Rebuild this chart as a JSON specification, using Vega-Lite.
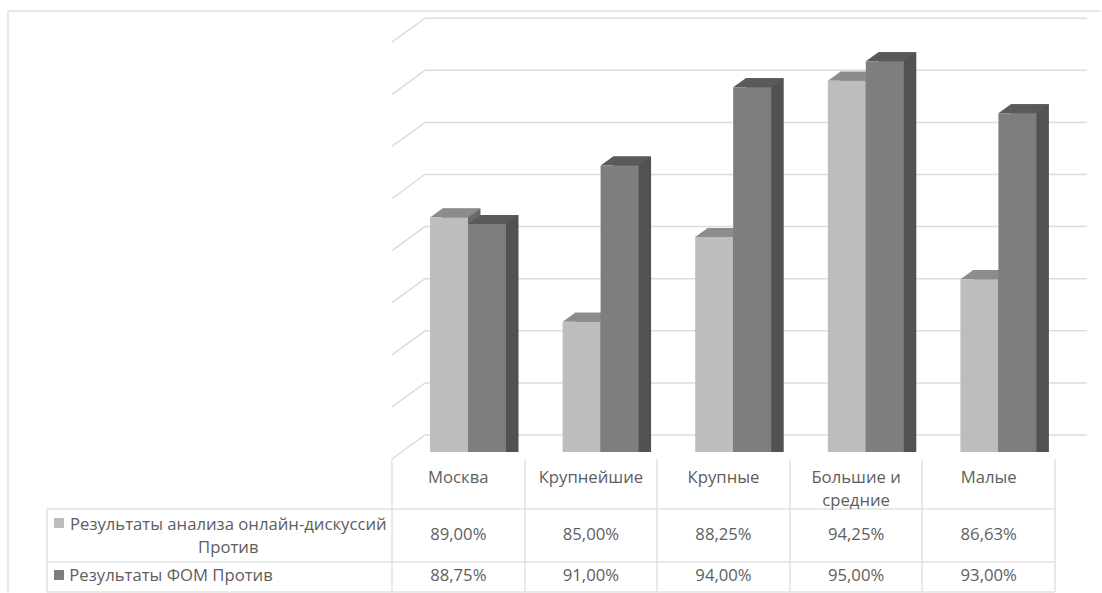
{
"$schema":"https://vega.github.io/schema/vega-lite/v6.json",
"width":1102,"height":593,"padding":0,
"autosize":{"type":"fit","contains":"padding"},
"background":"#ffffff",
"config":{"view":{"stroke":null},"text":{"font":"Open Sans","fontSize":16.7,"color":"#5e5e5e"}},
"datasets":{
"bars":[
{"cat":"Москва","series":"Результаты анализа онлайн-дискуссий Против","value":89.0,"label":"89,00%"},
{"cat":"Крупнейшие","series":"Результаты анализа онлайн-дискуссий Против","value":85.0,"label":"85,00%"},
{"cat":"Крупные","series":"Результаты анализа онлайн-дискуссий Против","value":88.25,"label":"88,25%"},
{"cat":"Большие и средние","series":"Результаты анализа онлайн-дискуссий Против","value":94.25,"label":"94,25%"},
{"cat":"Малые","series":"Результаты анализа онлайн-дискуссий Против","value":86.63,"label":"86,63%"},
{"cat":"Москва","series":"Результаты ФОМ Против","value":88.75,"label":"88,75%"},
{"cat":"Крупнейшие","series":"Результаты ФОМ Против","value":91.0,"label":"91,00%"},
{"cat":"Крупные","series":"Результаты ФОМ Против","value":94.0,"label":"94,00%"},
{"cat":"Большие и средние","series":"Результаты ФОМ Против","value":95.0,"label":"95,00%"},
{"cat":"Малые","series":"Результаты ФОМ Против","value":93.0,"label":"93,00%"}
],
"grid":[{"tick":80},{"tick":82},{"tick":84},{"tick":86},{"tick":88},{"tick":90},{"tick":92},{"tick":94},{"tick":96}],
"head":[
{"cat":"Москва","series":"Категория","label":"Москва"},
{"cat":"Крупнейшие","series":"Категория","label":"Крупнейшие"},
{"cat":"Крупные","series":"Категория","label":"Крупные"},
{"cat":"Большие и средние","series":"Категория","label":"Большие и\nсредние"},
{"cat":"Малые","series":"Категория","label":"Малые"}
],
"rows":[
{"cat":"Москва","series":"Результаты анализа онлайн-дискуссий Против","label":"Результаты анализа онлайн-дискуссий\nПротив"},
{"cat":"Москва","series":"Результаты ФОМ Против","label":"Результаты ФОМ Против"}
]
},
"resolve":{"scale":{"y":"independent"}},
"layer":[
{
"encoding":{
"x":{"field":"cat","type":"nominal","axis":null,"scale":{"domain":["Москва","Крупнейшие","Крупные","Большие и средние","Малые"],"range":[392,1055],"paddingInner":0,"paddingOuter":0}},
"y":{"field":"value","type":"quantitative","axis":null,"scale":{"domain":[80,96],"range":[452,35.2],"nice":false,"zero":false}}
},
"layer":[
{"data":{"values":[{"cat":"Москва","value":80}]},
"mark":{"type":"point","filled":false,"size":4,"stroke":"#e2e2e2","strokeWidth":1.5,"opacity":1,
"shape":"M-450.3,140.5L-450.3,-441L643,-441"}},
{"data":{"name":"grid"},
"mark":{"type":"point","filled":false,"size":4,"stroke":"#dcdcdc","strokeWidth":1.5,"opacity":1,
"shape":"M-66.3,7L-33.3,-17L628.7,-17"},
"encoding":{"x":{"datum":"Москва"},"y":{"field":"tick","type":"quantitative"}}},
{"data":{"name":"bars"},
"layer":[
{"transform":[{"filter":"datum.series=='Результаты анализа онлайн-дискуссий Против'"}],"mark":{"type":"bar","color":"#6a6a6a","width":38,"xOffset":3.2,"yOffset":-9},"encoding":{"y2":{"datum":80}}},
{"transform":[{"filter":"datum.series=='Результаты ФОМ Против'"}],"mark":{"type":"bar","color":"#525252","width":38,"xOffset":41.2,"yOffset":-9},"encoding":{"y2":{"datum":80}}},
{"transform":[{"filter":"datum.series=='Результаты анализа онлайн-дискуссий Против'"}],"mark":{"type":"point","filled":true,"size":4,"opacity":1,"color":"#8c8c8c","xOffset":-9.3,"shape":"M-19,0L19,0L31.5,-9L-6.5,-9Z"}},
{"transform":[{"filter":"datum.series=='Результаты ФОМ Против'"}],"mark":{"type":"point","filled":true,"size":4,"opacity":1,"color":"#5a5a5a","xOffset":28.7,"shape":"M-19,0L19,0L31.5,-9L-6.5,-9Z"}},
{"transform":[{"filter":"datum.series=='Результаты ФОМ Против'"}],"mark":{"type":"point","filled":true,"size":4,"opacity":1,"color":"#525252","xOffset":28.7,"shape":"M19,0L19,-9.5L31.5,-9.5Z"},"encoding":{"y":{"datum":80}}},
{"transform":[{"filter":"datum.series=='Результаты анализа онлайн-дискуссий Против'"}],"mark":{"type":"bar","color":"#bdbdbd","width":38,"xOffset":-9.3},"encoding":{"y2":{"datum":80}}},
{"transform":[{"filter":"datum.series=='Результаты ФОМ Против'"}],"mark":{"type":"bar","color":"#7e7e7e","width":38,"xOffset":28.7},"encoding":{"y2":{"datum":80}}}
]},
{"data":{"values":[{"cat":"Москва","value":80}]},
"mark":{"type":"point","filled":false,"size":4,"stroke":"#e2e2e2","strokeWidth":1.5,"opacity":1,
"shape":"M-66.3,7L-66.3,140M66.7,7L66.7,140M198.7,7L198.7,140M331.7,7L331.7,140M463.7,7L463.7,140M596.7,7L596.7,140M-411.3,57L596.7,57M-411.3,110L596.7,110M-411.3,140L596.7,140M-411.3,57L-411.3,140"}},
{"data":{"values":[{"cat":"Москва","value":80}]},
"mark":{"type":"point","filled":true,"size":4,"opacity":1,"color":"#bdbdbd","shape":"M-404.3,66L-394.3,66L-394.3,76L-404.3,76Z"}},
{"data":{"values":[{"cat":"Москва","value":80}]},
"mark":{"type":"point","filled":true,"size":4,"opacity":1,"color":"#7e7e7e","shape":"M-404.3,118L-394.3,118L-394.3,128L-404.3,128Z"}}
]
},
{
"encoding":{
"x":{"field":"cat","type":"nominal","axis":null},
"y":{"field":"series","type":"nominal","axis":null,"scale":{"type":"point","domain":["Категория","Результаты анализа онлайн-дискуссий Против","Результаты ФОМ Против"],"range":[477,576],"padding":0}},
"text":{"field":"label","type":"nominal"}
},
"layer":[
{"data":{"name":"head"},"mark":{"type":"text","baseline":"alphabetic","dy":6,"lineBreak":"\n","lineHeight":23}},
{"data":{"name":"bars"},"transform":[{"filter":"datum.series=='Результаты анализа онлайн-дискуссий Против'"}],"mark":{"type":"text","baseline":"middle","dy":8.5}},
{"data":{"name":"bars"},"transform":[{"filter":"datum.series=='Результаты ФОМ Против'"}],"mark":{"type":"text","baseline":"middle"}},
{"data":{"name":"rows"},"transform":[{"filter":"datum.series=='Результаты анализа онлайн-дискуссий Против'"}],"mark":{"type":"text","baseline":"alphabetic","align":"center","dx":-230,"dy":3,"lineBreak":"\n","lineHeight":23}},
{"data":{"name":"rows"},"transform":[{"filter":"datum.series=='Результаты ФОМ Против'"}],"mark":{"type":"text","baseline":"middle","align":"left","dx":-389}}
]
}
]
}
